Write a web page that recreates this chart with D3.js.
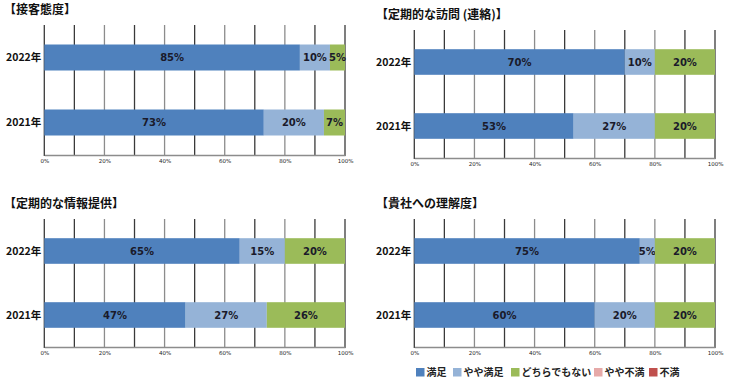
<!DOCTYPE html>
<html><head><meta charset="utf-8">
<script src="https://cdn.jsdelivr.net/npm/d3@7"></script>
<style>body{margin:0;background:#fff}svg{display:block}</style>
</head><body>
<svg id="c" width="730" height="385"></svg>
<script>
const years = ["2022年", "2021年"];
const seriesNames = ["満足", "やや満足", "どちらでもない", "やや不満", "不満"];
const seriesColors = ["#4F81BD", "#95B3D7", "#9BBB59", "#E6A9A8", "#C0504D"];
const titles = ["【接客態度】", "【定期的な訪問 (連絡)】", "【定期的な情報提供】", "【貴社への理解度】"];
const tickValues = [0, 20, 40, 60, 80, 100];
// values per chart: [2022 row, 2021 row], each [満足, やや満足, どちらでもない, やや不満, 不満]
const chart1 = [[85, 10, 5, 0, 0], [73, 20, 7, 0, 0]];
const chart2 = [[70, 10, 20, 0, 0], [53, 27, 20, 0, 0]];
const chart3 = [[65, 15, 20, 0, 0], [47, 27, 26, 0, 0]];
const chart4 = [[75, 5, 20, 0, 0], [60, 20, 20, 0, 0]];

const svg = d3.select("#c");
const panels = [
  {data: chart1, title: titles[0], x0: 44.3, x1: 345, top: 25, bottom: 155, tx: 4, ty: 14},
  {data: chart2, title: titles[1], x0: 414.3, x1: 715, top: 30, bottom: 158, tx: 376, ty: 19},
  {data: chart3, title: titles[2], x0: 44.3, x1: 345, top: 219, bottom: 347, tx: 4, ty: 208},
  {data: chart4, title: titles[3], x0: 414.3, x1: 715, top: 219, bottom: 347, tx: 376, ty: 208}
];
const font = "'Noto Sans CJK JP', 'Noto Sans', sans-serif";

panels.forEach(p => {
  const g = svg.append("g");
  const x = d3.scaleLinear().domain([0, 100]).range([p.x0, p.x1]);
  const y = d3.scaleBand().domain(years).range([p.top, p.bottom]).paddingInner(0.6).paddingOuter(0.3);
  g.append("text").attr("x", p.tx).attr("y", p.ty).text(p.title)
    .attr("font-family", font).attr("font-weight", "bold").attr("font-size", 12).attr("fill", "#111");
  // gridlines
  g.selectAll("line.grid").data(d3.range(0, 101, 10)).join("line")
    .attr("x1", d => x(d)).attr("x2", d => x(d))
    .attr("y1", p.top).attr("y2", p.bottom + 1)
    .attr("stroke", d => (d % 20 === 0 && d !== 0 && d !== 100) ? "#8c8c8c" : "#3a3a3a")
    .attr("stroke-width", 1.3);
  // axis
  const ax = g.append("g").attr("transform", `translate(0,${p.bottom})`)
    .call(d3.axisBottom(x).tickValues(tickValues).tickFormat(d => d + "%").tickSize(0).tickPadding(4));
  ax.select(".domain").attr("stroke", "#8c8c8c").attr("stroke-width", 1.3);
  ax.selectAll("text").attr("font-family", "Verdana, 'DejaVu Sans', sans-serif").attr("font-size", 5.5).attr("fill", "#222");
  // year labels
  g.selectAll("text.yr").data(years).join("text")
    .attr("x", p.x0 - 3).attr("y", d => y(d) + y.bandwidth() / 2)
    .attr("dy", "0.36em").attr("text-anchor", "end").text(d => d)
    .attr("font-family", font).attr("font-weight", "bold").attr("font-size", 10.5).attr("fill", "#111");
  // bars
  p.data.forEach((row, ri) => {
    const yr = years[ri];
    let acc = 0;
    row.forEach((v, si) => {
      if (v <= 0) return;
      const start = acc;
      acc += v;
      g.append("rect").attr("x", x(start)).attr("y", y(yr))
        .attr("width", x(acc) - x(start)).attr("height", y.bandwidth())
        .attr("fill", seriesColors[si]);
      g.append("text").attr("x", x(start + v / 2)).attr("y", y(yr) + y.bandwidth() / 2)
        .attr("dy", "0.36em").attr("text-anchor", "middle").text(v + "%")
        .attr("font-family", "Verdana, 'DejaVu Sans', sans-serif").attr("font-weight", "bold")
        .attr("font-size", 10).attr("fill", "#1a1a2a");
    });
  });
});

// legend
const legendX = [416, 453, 511, 594, 649];
const lg = svg.append("g");
seriesNames.forEach((n, i) => {
  lg.append("rect").attr("x", legendX[i]).attr("y", 368).attr("width", 8.5).attr("height", 8.5).attr("fill", seriesColors[i]);
  lg.append("text").attr("x", legendX[i] + 10.5).attr("y", 372.5).attr("dy", "0.36em").text(n)
    .attr("font-family", font).attr("font-size", 10).attr("font-weight", "bold").attr("fill", "#222");
});
</script>
</body></html>
